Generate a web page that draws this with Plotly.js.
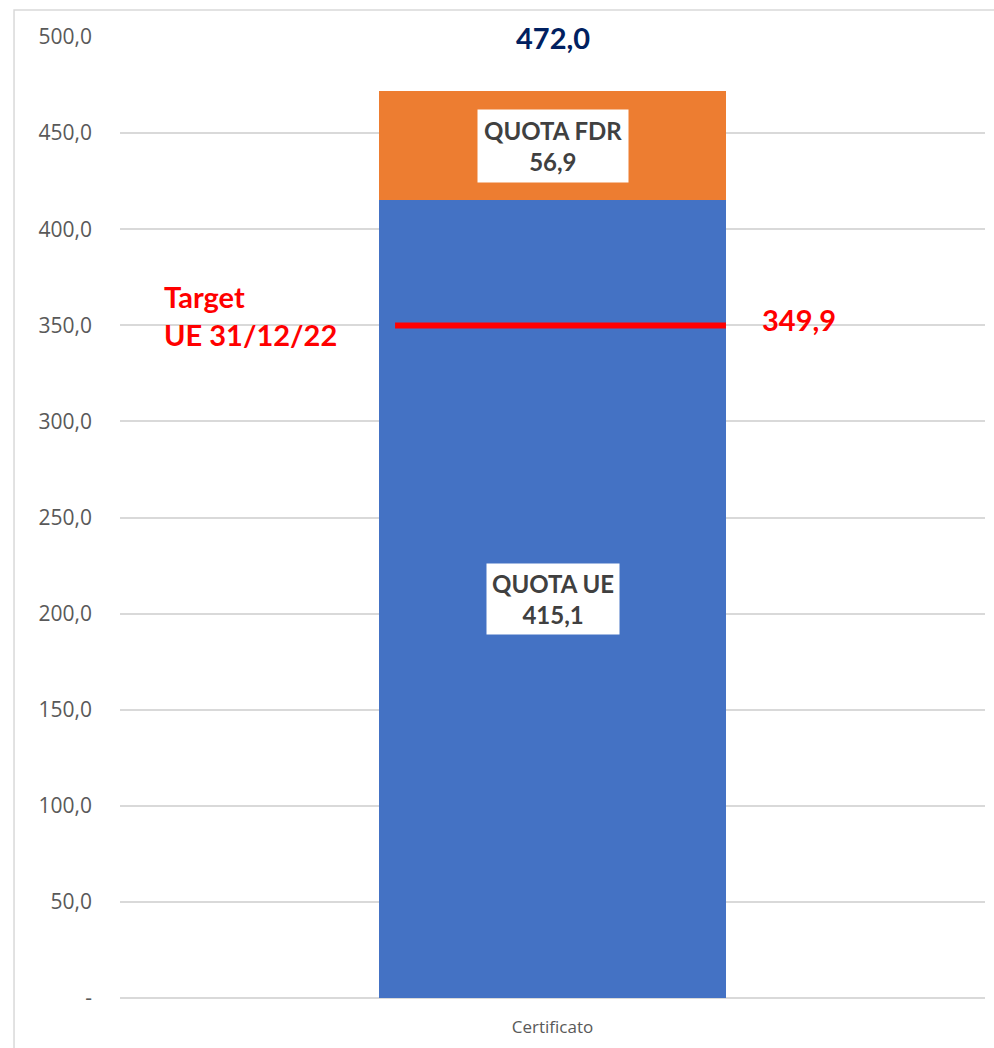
<!DOCTYPE html>
<html>
<head>
<meta charset="utf-8">
<script src="https://cdn.plot.ly/plotly-3.0.1.min.js"></script>
<style>
html,body{margin:0;padding:0;background:#fff;}
#chart{width:994px;height:1048px;}
</style>
</head>
<body>
<div id="chart"></div>
<script>
// ---- data ----
const categories = ['Certificato'];
const quotaUE = [415.1];
const quotaFDR = [56.9];
const totals = [472.0];
const targetValue = 349.9;
const targetLabel = 'Target<br>UE 31/12/22';
const yTickVals = [0, 50, 100, 150, 200, 250, 300, 350, 400, 450, 500];
const yTickText = ['-', '50,0', '100,0', '150,0', '200,0', '250,0', '300,0', '350,0', '400,0', '450,0', '500,0'];

const fmt = v => v.toFixed(1).replace('.', ',');

const boldFont = 'Lato, "Open Sans", sans-serif';
const barWidth = 0.401;

const traces = [
  {
    type: 'bar', x: categories, y: quotaUE, name: 'QUOTA UE',
    marker: {color: '#4472C4'}, width: barWidth, hoverinfo: 'none'
  },
  {
    type: 'bar', x: categories, y: quotaFDR, name: 'QUOTA FDR',
    marker: {color: '#ED7D31'}, width: barWidth, hoverinfo: 'none'
  },
  {
    type: 'scatter', mode: 'lines', xaxis: 'x2', yaxis: 'y',
    x: [-0.182, barWidth / 2], y: [targetValue, targetValue],
    line: {color: '#FF0000', width: 6}, hoverinfo: 'none'
  }
];

const annotations = [
  {
    x: categories[0], y: quotaUE[0] + quotaFDR[0] / 2, xref: 'x', yref: 'y',
    text: 'QUOTA FDR<br>' + fmt(quotaFDR[0]), showarrow: false,
    font: {family: boldFont, size: 24, color: '#404040', weight: 'bold'},
    bgcolor: '#FFFFFF', borderpad: 6
  },
  {
    x: categories[0], y: quotaUE[0] / 2, xref: 'x', yref: 'y',
    text: 'QUOTA UE<br>' + fmt(quotaUE[0]), showarrow: false,
    font: {family: boldFont, size: 24, color: '#404040', weight: 'bold'},
    bgcolor: '#FFFFFF', borderpad: 5
  },
  {
    x: categories[0], y: totals[0], xref: 'x', yref: 'y', yanchor: 'bottom', yshift: 34,
    text: fmt(totals[0]), showarrow: false,
    font: {family: boldFont, size: 29, color: '#002060', weight: 'bold'}
  },
  {
    x: 0.285, y: targetValue, xref: 'x', yref: 'y', yshift: 6,
    text: fmt(targetValue), showarrow: false,
    font: {family: boldFont, size: 29, color: '#FF0000', weight: 'bold'}
  },
  {
    x: -0.452, y: targetValue, xref: 'x', yref: 'y', xanchor: 'left', yshift: 10,
    text: targetLabel, showarrow: false, align: 'left',
    font: {family: boldFont, size: 29, color: '#FF0000', weight: 'bold'}
  }
];

const layout = {
  width: 994, height: 1048,
  margin: {l: 120, r: 9, t: 37, b: 50},
  paper_bgcolor: '#FFFFFF', plot_bgcolor: '#FFFFFF',
  barmode: 'stack', showlegend: false,
  xaxis: {
    type: 'category', range: [-0.5, 0.5], showgrid: false, zeroline: false,
    showline: false, ticks: '',
    tickfont: {family: '"Open Sans", sans-serif', size: 17, color: '#595959'},
    ticklabelstandoff: 17, fixedrange: true
  },
  xaxis2: {
    overlaying: 'x', range: [-0.5, 0.5], visible: false, fixedrange: true
  },
  yaxis: {
    range: [0, 500], tickvals: yTickVals, ticktext: yTickText,
    showgrid: true, gridcolor: '#D9D9D9', gridwidth: 2,
    zeroline: true, zerolinecolor: '#D9D9D9', zerolinewidth: 2,
    showline: false, ticks: '',
    tickfont: {family: '"Open Sans", sans-serif', size: 21, color: '#595959'},
    ticklabelstandoff: 27, fixedrange: true
  },
  annotations: annotations,
  shapes: [
    {
      type: 'rect', xref: 'paper', yref: 'paper',
      x0: -0.1225, x1: 1.2, y0: -0.2, y1: 1.028,
      line: {color: '#D9D9D9', width: 1.5}, fillcolor: 'rgba(0,0,0,0)', layer: 'below'
    }
  ]
};

Plotly.newPlot('chart', traces, layout, {displayModeBar: false, staticPlot: true});
</script>
</body>
</html>
